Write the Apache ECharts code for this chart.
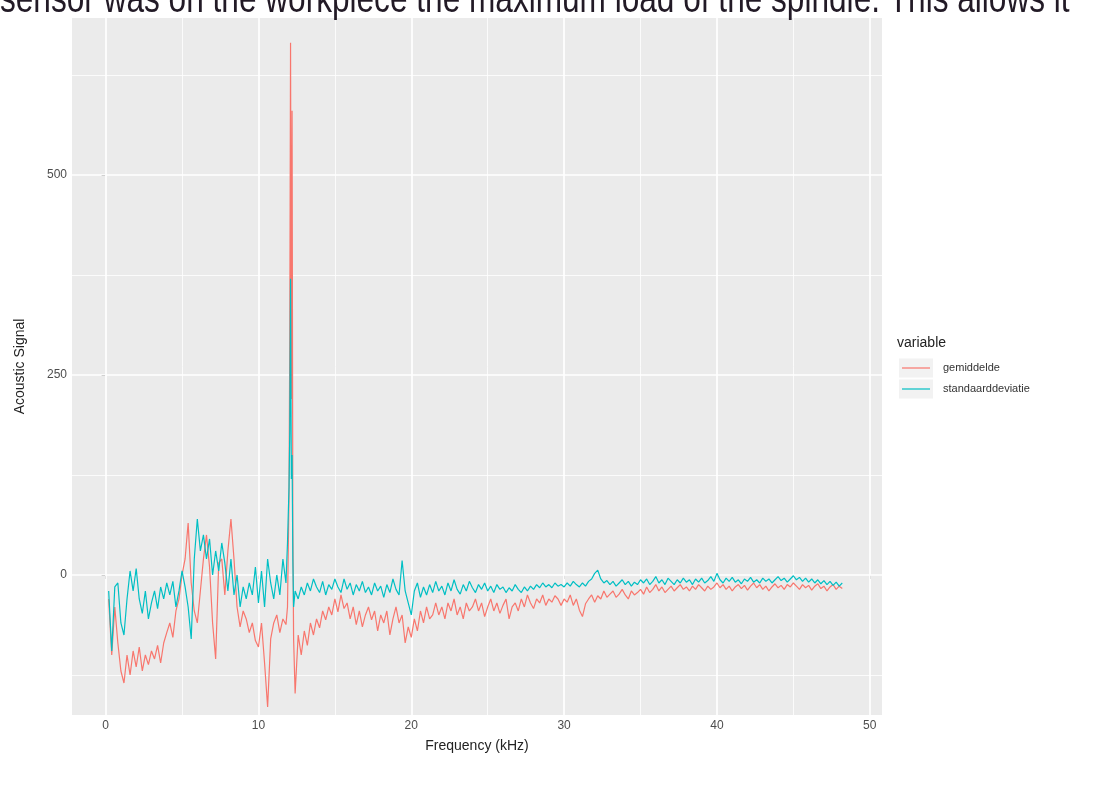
<!DOCTYPE html>
<html>
<head>
<meta charset="utf-8">
<script src="https://cdn.jsdelivr.net/npm/echarts@6/dist/echarts.min.js"></script>
<style>
html,body{margin:0;padding:0;background:#fff;}
#chart{width:1093px;height:789px;}
</style>
</head>
<body>
<div id="chart"></div>
<script>
// Frequency samples (kHz)
const freq = [
 0.2,0.4,0.6,0.8,1.0,1.2,1.4,1.6,1.8,2.0,2.2,2.4,2.6,2.8,3.0,3.2,3.4,3.6,3.8,4.0,
 4.2,4.4,4.6,4.8,5.0,5.2,5.4,5.6,5.8,6.0,6.2,6.4,6.6,6.8,7.0,7.2,7.4,7.6,7.8,8.0,
 8.2,8.4,8.6,8.8,9.0,9.2,9.4,9.6,9.8,10.0,10.2,10.4,10.6,10.8,11.0,11.2,11.4,11.6,11.8,
 11.9,12.0,12.05,12.1,12.15,12.2,12.25,12.3,12.4,12.6,
 12.8,13.0,13.2,13.4,13.6,13.8,14.0,14.2,14.4,14.6,14.8,15.0,15.2,15.4,15.6,15.8,16.0,
 16.2,16.4,16.6,16.8,17.0,17.2,17.4,17.6,17.8,18.0,18.2,18.4,18.6,18.8,19.0,19.2,19.4,19.6,19.8,20.0,
 20.2,20.4,20.6,20.8,21.0,21.2,21.4,21.6,21.8,22.0,22.2,22.4,22.6,22.8,23.0,23.2,23.4,23.6,23.8,24.0,
 24.2,24.4,24.6,24.8,25.0,25.2,25.4,25.6,25.8,26.0,26.2,26.4,26.6,26.8,27.0,27.2,27.4,27.6,27.8,28.0,
 28.2,28.4,28.6,28.8,29.0,29.2,29.4,29.6,29.8,30.0,30.2,30.4,30.6,30.8,31.0,31.2,31.4,31.6,31.8,32.0,
 32.2,32.4,32.6,32.8,33.0,33.2,33.4,33.6,33.8,34.0,34.2,34.4,34.6,34.8,35.0,35.2,35.4,35.6,35.8,36.0,
 36.2,36.4,36.6,36.8,37.0,37.2,37.4,37.6,37.8,38.0,38.2,38.4,38.6,38.8,39.0,39.2,39.4,39.6,39.8,40.0,
 40.2,40.4,40.6,40.8,41.0,41.2,41.4,41.6,41.8,42.0,42.2,42.4,42.6,42.8,43.0,43.2,43.4,43.6,43.8,44.0,
 44.2,44.4,44.6,44.8,45.0,45.2,45.4,45.6,45.8,46.0,46.2,46.4,46.6,46.8,47.0,47.2,47.4,47.6,47.8,48.0,48.2
];

const gemiddelde = [
 -30,-100,-40,-85,-120,-135,-100,-125,-95,-115,-90,-120,-100,-112,-95,-105,-88,-110,-85,-72,
 -60,-78,-45,-30,0,20,65,-10,-45,-60,-20,20,50,10,-60,-105,15,20,-25,30,
 70,20,-40,-65,-45,-55,-72,-60,-82,-90,-60,-110,-165,-80,-60,-50,-72,-55,-62,
 -40,100,300,665,220,580,60,-80,-148,-75,
 -100,-70,-88,-60,-75,-55,-66,-45,-56,-40,-50,-30,-46,-25,-42,-35,-55,
 -40,-62,-45,-65,-50,-40,-56,-45,-70,-50,-60,-45,-75,-55,-40,-60,-50,-85,-65,-78,
 -55,-70,-45,-60,-40,-55,-50,-35,-50,-40,-55,-35,-45,-30,-50,-40,-55,-35,-45,-40,
 -30,-45,-35,-52,-40,-30,-45,-35,-48,-38,-30,-55,-40,-35,-45,-30,-40,-25,-35,-42,
 -30,-35,-25,-38,-30,-34,-26,-30,-38,-30,-34,-25,-38,-30,-44,-52,-36,-30,-25,-34,
 -26,-30,-20,-28,-24,-20,-28,-24,-18,-25,-30,-20,-25,-22,-18,-24,-15,-22,-18,-12,
 -20,-15,-22,-18,-14,-20,-16,-12,-18,-15,-20,-14,-18,-12,-16,-20,-14,-18,-15,-10,
 -16,-12,-18,-14,-20,-15,-12,-17,-13,-19,-14,-10,-16,-12,-18,-14,-20,-15,-11,-16,
 -13,-18,-12,-15,-10,-14,-18,-12,-16,-13,-19,-14,-11,-17,-14,-20,-15,-12,-18,-14,-17
];

const standaarddeviatie = [
 -20,-95,-15,-10,-60,-75,-30,5,-20,8,-30,-48,-20,-55,-35,-20,-42,-15,-30,-10,
 -25,-8,-40,-20,5,-15,-40,-80,20,70,30,50,20,45,0,30,5,40,15,-20,
 20,-25,0,-40,-15,-30,-10,-25,10,-35,5,-40,20,-10,-30,0,-25,20,-10,
 40,110,180,370,120,150,20,-40,-20,-30,
 -15,-25,-10,-20,-5,-15,-22,-8,-25,-12,-18,-5,-15,-22,-5,-18,-10,
 -25,-12,-20,-8,-22,-15,-25,-10,-20,-14,-28,-12,-22,-5,-18,-25,18,-20,-35,-50,
 -20,-10,-28,-15,-25,-12,-22,-8,-20,-14,-25,-10,-20,-6,-18,-24,-12,-20,-8,-16,
 -22,-12,-18,-10,-20,-14,-22,-12,-18,-15,-22,-16,-20,-12,-18,-22,-15,-20,-14,-18,
 -12,-16,-10,-15,-12,-16,-10,-14,-12,-15,-10,-14,-8,-12,-15,-10,-14,-8,-5,2,
 6,-5,-10,-7,-12,-8,-14,-10,-6,-12,-8,-14,-9,-12,-6,-10,-5,-12,-8,-2,
 -10,-6,-12,-4,-8,-12,-6,-10,-4,-9,-6,-12,-5,-9,-4,-10,-7,-2,-8,2,
 -6,-10,-4,-8,-3,-9,-6,-11,-5,-8,-3,-9,-6,-10,-4,-8,-5,-10,-6,-2,
 -7,-4,-9,-5,-1,-6,-3,-8,-4,-9,-5,-10,-6,-11,-7,-12,-8,-13,-9,-14,-10
];

const seriesNames = ['gemiddelde', 'standaarddeviatie'];
const seriesColors = ['#F8766D', '#00BFC4'];
const xTickValues = [0, 10, 20, 30, 40, 50];
const yTickValues = [0, 250, 500];
const xMinorGrid = [5, 15, 25, 35, 45];
const yMinorGrid = [-125, 125, 375, 625];
const topCaption = 'sensor was on the workpiece the maximum load of the spindle. This allows it';

const pairs = (ys) => freq.map((f, i) => [f, ys[i]]);

const gridLines = [];
xTickValues.forEach(v => gridLines.push({ xAxis: v, lineStyle: { width: 1.7 } }));
xMinorGrid.forEach(v => gridLines.push({ xAxis: v, lineStyle: { width: 0.8 } }));
yTickValues.forEach(v => gridLines.push({ yAxis: v, lineStyle: { width: 1.7 } }));
yMinorGrid.forEach(v => gridLines.push({ yAxis: v, lineStyle: { width: 0.8 } }));

const chart = echarts.init(document.getElementById('chart'), null, { renderer: 'canvas' });
const FONT = 'Liberation Sans';

// legend drawn as graphic (ggplot style: grey key boxes with a line)
const legendGraphics = [
  { type: 'text', z: 5, x: 897, y: 343,
    style: { text: 'variable', font: '14px "Liberation Sans"', fill: '#222', verticalAlign: 'middle' } }
];
seriesNames.forEach((name, i) => {
  const cy = 368 + i * 21;
  legendGraphics.push(
    { type: 'rect', z: 1, shape: { x: 899, y: cy - 9.5, width: 34, height: 19 }, style: { fill: '#F2F2F2' } },
    { type: 'line', z: 2, shape: { x1: 902, y1: cy, x2: 930, y2: cy }, style: { stroke: seriesColors[i], lineWidth: 1.2 } },
    { type: 'text', z: 5, x: 943, y: cy,
      style: { text: name, font: '11px "Liberation Sans"', fill: '#333', verticalAlign: 'middle' } }
  );
});

chart.setOption({
  animation: false,
  backgroundColor: '#ffffff',
  textStyle: { fontFamily: FONT },
  grid: {
    left: 72, right: 211, top: 18, bottom: 74,
    show: true, backgroundColor: '#EBEBEB', borderWidth: 0
  },
  xAxis: {
    type: 'value', min: -2.2, max: 50.8,
    name: 'Frequency (kHz)', nameLocation: 'middle', nameGap: 24,
    nameTextStyle: { fontSize: 14, color: '#222', fontFamily: FONT },
    axisLine: { show: false },
    axisTick: { show: true, length: 4, lineStyle: { color: '#444', width: 1 }, customValues: xTickValues },
    axisLabel: { fontSize: 12, color: '#4D4D4D', margin: 5, customValues: xTickValues, fontFamily: FONT },
    splitLine: { show: false }
  },
  yAxis: {
    type: 'value', min: -175, max: 696,
    name: 'Acoustic Signal', nameLocation: 'middle', nameGap: 45,
    nameTextStyle: { fontSize: 14, color: '#222', fontFamily: FONT },
    axisLine: { show: false },
    axisTick: { show: true, length: 4, lineStyle: { color: '#444', width: 1 }, customValues: yTickValues },
    axisLabel: { fontSize: 12, color: '#4D4D4D', margin: 5, customValues: yTickValues, fontFamily: FONT },
    splitLine: { show: false }
  },
  graphic: legendGraphics.concat([
    { type: 'text', z: 5, x: 0, y: 21, scaleX: 0.79, originX: 0, originY: 0,
      style: { text: topCaption, font: '40px "Liberation Sans"', fill: '#221a26', verticalAlign: 'bottom' } }
  ]),
  series: [
    {
      name: seriesNames[0], type: 'line', data: pairs(gemiddelde),
      showSymbol: false, symbol: 'none', z: 3, silent: true,
      lineStyle: { color: seriesColors[0], width: 1.2 }, itemStyle: { color: seriesColors[0] },
      markLine: {
        silent: true, symbol: 'none', z: 1, animation: false,
        label: { show: false },
        lineStyle: { color: '#FFFFFF', type: 'solid' },
        emphasis: { disabled: true },
        data: gridLines
      }
    },
    {
      name: seriesNames[1], type: 'line', data: pairs(standaarddeviatie),
      showSymbol: false, symbol: 'none', z: 4, silent: true,
      lineStyle: { color: seriesColors[1], width: 1.2 }, itemStyle: { color: seriesColors[1] }
    }
  ]
});
</script>
</body>
</html>
